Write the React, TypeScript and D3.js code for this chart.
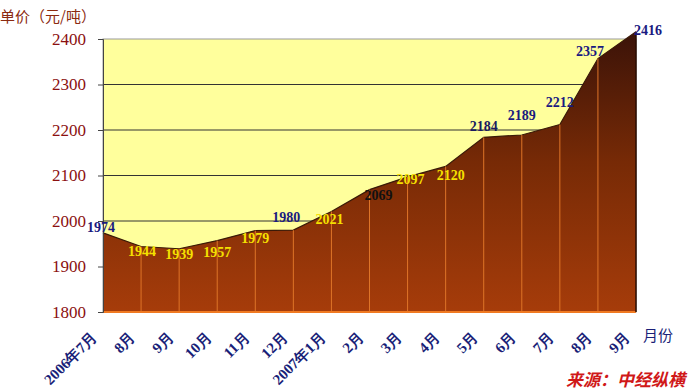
import React, {useEffect, useRef} from 'react';
import * as d3 from 'd3';

const months = ['2006年7月','8月','9月','10月','11月','12月','2007年1月','2月','3月','4月','5月','6月','7月','8月','9月'];
const prices = [1974,1944,1939,1957,1979,1980,2021,2069,2097,2120,2184,2189,2212,2357,2416];
// label colour and offset (dx, dy) for each value label, as on the picture
const labelColors = ['#1a1a80','#f5e000','#f5e000','#f5e000','#f5e000','#1a1a80','#f5e000','#111111','#f5e000','#f5e000','#1a1a60','#1a1a80','#1a1a80','#1a1a80','#1a1a80'];
const labelDx = [-2,1,0,0,0,-7,-2,9,3,5,0,0,0,-8,12];
const labelDy = [-4,6,7,13,9,-11,9,7,4,10,-9,-18,-21,-6,0];
const yTicks = [1800,1900,2000,2100,2200,2300,2400];

export default function App() {
  const ref = useRef<SVGSVGElement>(null);

  useEffect(() => {
    const svg = d3.select(ref.current);
    svg.selectAll('*').remove();

    const left = 103, right = 636, top = 39, bottom = 312;
    const x = d3.scaleLinear().domain([0, months.length - 1]).range([left, right]);
    const y = d3.scaleLinear().domain([1800, 2400]).range([bottom, top]);

    const defs = svg.append('defs');
    const grad = defs.append('linearGradient').attr('id', 'areaGrad')
      .attr('x1', 0).attr('y1', top).attr('x2', 0).attr('y2', bottom)
      .attr('gradientUnits', 'userSpaceOnUse');
    grad.append('stop').attr('offset', '0%').attr('stop-color', '#3e1408');
    grad.append('stop').attr('offset', '45%').attr('stop-color', '#772a06');
    grad.append('stop').attr('offset', '100%').attr('stop-color', '#a63c0a');

    // plot background
    svg.append('rect').attr('x', left).attr('y', top).attr('width', right - left).attr('height', bottom - top)
      .attr('fill', '#ffff9c').attr('stroke', '#999').attr('stroke-width', 1);

    // grid
    svg.append('g').selectAll('line').data(yTicks.slice(1, -1)).join('line')
      .attr('x1', left).attr('x2', right).attr('y1', d => y(d)).attr('y2', d => y(d))
      .attr('stroke', '#333').attr('stroke-width', 1);

    const area = d3.area<number>()
      .x((d, i) => x(i)).y0(bottom).y1(d => y(d));
    svg.append('path').datum(prices).attr('d', area).attr('fill', 'url(#areaGrad)');
    const line = d3.line<number>().x((d, i) => x(i)).y(d => y(d));
    svg.append('path').datum(prices).attr('d', line).attr('fill', 'none')
      .attr('stroke', '#3a1a08').attr('stroke-width', 1.2);

    // drop lines
    svg.append('g').selectAll('line').data(prices.slice(1, -1)).join('line')
      .attr('x1', (d, i) => x(i + 1)).attr('x2', (d, i) => x(i + 1))
      .attr('y1', d => y(d)).attr('y2', bottom)
      .attr('stroke', '#de7428').attr('stroke-width', 1);

    svg.append('line').attr('x1', left).attr('x2', right).attr('y1', bottom).attr('y2', bottom)
      .attr('stroke', '#f07a22').attr('stroke-width', 2);
    svg.append('line').attr('x1', right).attr('x2', right).attr('y1', y(prices[prices.length - 1])).attr('y2', bottom)
      .attr('stroke', '#2a0c02').attr('stroke-width', 1.5);

    // y axis
    const yAxis = svg.append('g').attr('transform', `translate(${left},0)`)
      .call(d3.axisLeft(y).tickValues(yTicks).tickSize(5).tickPadding(12).tickFormat(d3.format('d')));
    yAxis.select('.domain').attr('stroke', '#444');
    yAxis.selectAll('line').attr('stroke', '#444');
    yAxis.selectAll('text').attr('fill', '#8b1010')
      .style('font-family', '"Liberation Serif", "DejaVu Serif", serif').style('font-size', '17px');

    // x labels
    svg.append('g').selectAll('text').data(months).join('text')
      .attr('transform', (d, i) => `translate(${x(i) - 5},${bottom + 26}) rotate(-45)`)
      .attr('text-anchor', 'end')
      .attr('fill', '#1a1f78')
      .style('font-family', '"Liberation Serif", "DejaVu Serif", serif')
      .style('font-size', '15px').style('font-weight', 'bold')
      .text(d => d);

    // value labels
    svg.append('g').selectAll('text').data(prices).join('text')
      .attr('x', (d, i) => x(i) + labelDx[i]).attr('y', (d, i) => y(d) + labelDy[i])
      .attr('text-anchor', 'middle').attr('dominant-baseline', 'middle')
      .attr('fill', (d, i) => labelColors[i])
      .style('font-family', '"Liberation Serif", "DejaVu Serif", serif')
      .style('font-size', '14px').style('font-weight', 600)
      .text(d => d);

    svg.append('text').attr('x', 0).attr('y', 22).text('单价（元/吨）')
      .attr('fill', '#8b2a10').style('font-family', '"Noto Sans CJK SC", sans-serif').style('font-size', '15px');
    svg.append('text').attr('x', 643).attr('y', 341).text('月份')
      .attr('fill', '#1a1f78').style('font-family', '"Noto Sans CJK SC", sans-serif').style('font-size', '15px');
    svg.append('text').attr('x', 685).attr('y', 386).attr('text-anchor', 'end').text('来源：中经纵横')
      .attr('fill', '#d01818').style('font-family', '"Noto Sans CJK SC", sans-serif')
      .style('font-size', '17px').style('font-weight', 'bold').style('font-style', 'italic');
  }, []);

  return (
    <svg ref={ref} width={691} height={391}
      style={{position: 'absolute', left: 0, top: 0, background: '#fff'}} />
  );
}
